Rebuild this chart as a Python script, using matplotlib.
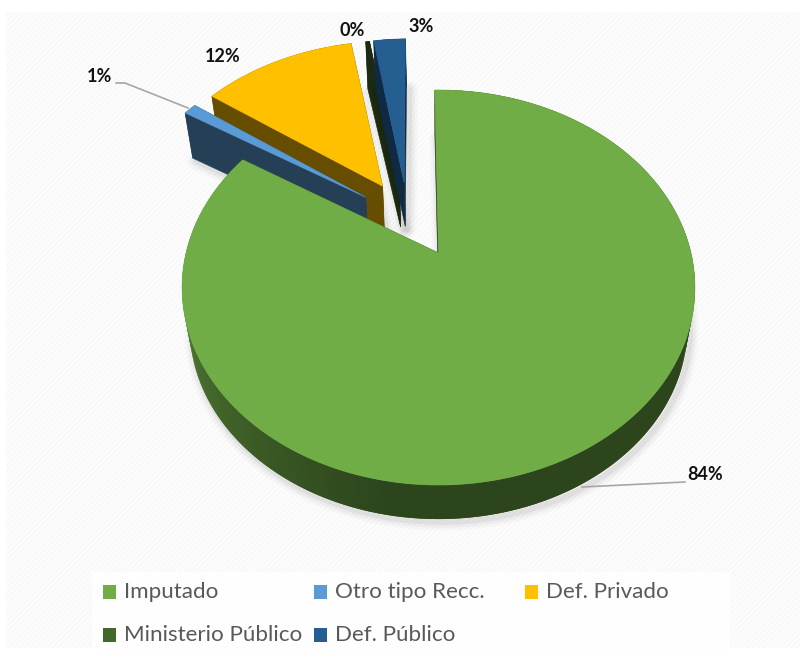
import numpy as np
import matplotlib
matplotlib.use("Agg")
import matplotlib.pyplot as plt
from matplotlib.patches import Polygon, Rectangle

# 1. Chart data
categories = ["Imputado", "Otro tipo Recc.", "Def. Privado", "Ministerio Público", "Def. Público"]
values = [84.2, 1.0, 12.0, 0.3, 2.5]
pct_labels = ["84%", "1%", "12%", "0%", "3%"]

# 2. Styles
top_colors = ["#70ad47", "#5b9bd5", "#ffc000", "#1b2a11", "#255e91"]
wall_colors = ["#2d451c", "#243f56", "#664d00", "#1b2a11", "#0f2a42"]
legend_colors = ["#70ad47", "#5b9bd5", "#ffc000", "#43682b", "#255e91"]
explode_dist = [0.0, 0.432, 0.44, 0.419, 0.416]
explode_dir = [0.0, 315.3, 327.6, 336.8, 339.6]
draw_order = [3, 4, 2, 1, 0]
start_angle = -1.0

# projection of the pie plane on the picture
apex_x, apex_y = 438.5, 253
scale_x, scale_y = 252.5, 191.5
persp = 0.1747
center_x, center_y = 438.5, 287
depth = 40
depth_scale = 0.97


def project(x, y):
    w = 1 + persp * y
    return apex_x + scale_x * x / w, apex_y - scale_y * y / w


def lower(px, py):
    return (center_x + (px - center_x) * depth_scale,
            center_y + (py - center_y) * depth_scale + depth)


def mix(c1, c2, t):
    a = np.array(matplotlib.colors.to_rgb(c1))
    b = np.array(matplotlib.colors.to_rgb(c2))
    return tuple(a + (b - a) * t)


plt.rcParams["font.family"] = ["Lato", "DejaVu Sans"]
plt.rcParams["hatch.linewidth"] = 0.5

fig = plt.figure(figsize=(8.03, 6.57), dpi=100)
ax = fig.add_axes([0, 0, 1, 1])
ax.set_xlim(0, 803)
ax.set_ylim(657, 0)
ax.axis("off")

# Card background
ax.add_patch(Rectangle((6, 12), 794, 636, facecolor="#fcfcfc", edgecolor="#f5f5f5",
                       hatch="//////", linewidth=0, zorder=0))
ax.add_patch(Rectangle((92, 572), 638, 80, facecolor="#fefefe", edgecolor="none", zorder=0.5))

# 3. Slices
ends = start_angle + np.cumsum(values) / np.sum(values) * 360
starts = ends - np.array(values) / np.sum(values) * 360

z = 1
for i in draw_order:
    off_x = explode_dist[i] * np.sin(np.radians(explode_dir[i]))
    off_y = explode_dist[i] * np.cos(np.radians(explode_dir[i]))
    theta = np.radians(np.linspace(starts[i], ends[i], max(4, int(values[i] * 3))))
    rim_x, rim_y = project(np.sin(theta) + off_x, np.cos(theta) + off_y)
    tip_x, tip_y = project(off_x, off_y)
    top = np.column_stack([np.r_[tip_x, rim_x], np.r_[tip_y, rim_y]])
    low_x, low_y = lower(top[:, 0], top[:, 1])
    low = np.column_stack([low_x, low_y])

    # soft shadow
    for lw, alpha in [(12, 0.025), (8, 0.035), (4, 0.05)]:
        ax.add_patch(Polygon(low + [3, 3], closed=True, facecolor="none", edgecolor="black",
                             linewidth=lw, alpha=alpha, zorder=z, joinstyle="round"))
    z += 1

    # straight walls
    for a, b in [(0, 1), (0, len(top) - 1)]:
        quad = np.array([top[a], top[b], low[b], low[a]])
        ax.add_patch(Polygon(quad, closed=True, facecolor=wall_colors[i],
                             edgecolor=wall_colors[i], linewidth=0.4, zorder=z))
    z += 1

    # curved wall, lighter towards the left end of the big slice
    # quads overlap by one step so no seams show between them
    for k in range(1, len(top) - 1):
        k2 = min(k + 2, len(top) - 1)
        quad = np.array([top[k], top[k2], low[k2], low[k]])
        color = wall_colors[i]
        if i == 0:
            deg = np.degrees(theta[k - 1])
            color = mix("#2d451c", "#5a8a3a", np.clip((deg - 190) / 90, 0, 1))
        ax.add_patch(Polygon(quad, closed=True, facecolor=color, edgecolor="none",
                             zorder=z))
    z += 1

    ax.add_patch(Polygon(top, closed=True, facecolor=top_colors[i], edgecolor=top_colors[i],
                         linewidth=0.4, zorder=z))
    z += 1

# 4. Leader lines and data labels
ax.plot([116, 125, 188], [83, 83, 108], color="#a6a6a6", linewidth=1.2, zorder=z)
ax.plot([685, 582], [482, 487], color="#a6a6a6", linewidth=1.2, zorder=z)

label_pos = [(705, 475), (100, 76), (223, 56), (352, 31), (421, 27)]
for text, (lx, ly) in zip(pct_labels, label_pos):
    ax.text(lx, ly, text, fontsize=13, fontweight="bold", color="#111111",
            ha="center", va="center", zorder=z + 1)

# 5. Legend
legend_pos = [(103, 592), (314, 592), (525, 592), (103, 635), (314, 635)]
for name, color, (lx, ly) in zip(categories, legend_colors, legend_pos):
    ax.add_patch(Rectangle((lx, ly - 7), 13, 14, facecolor=color, edgecolor="none", zorder=z))
    ax.text(lx + 21, ly, name, fontsize=16.1, color="#595959", ha="left", va="center", zorder=z)

fig.savefig("out.png", dpi=100)
